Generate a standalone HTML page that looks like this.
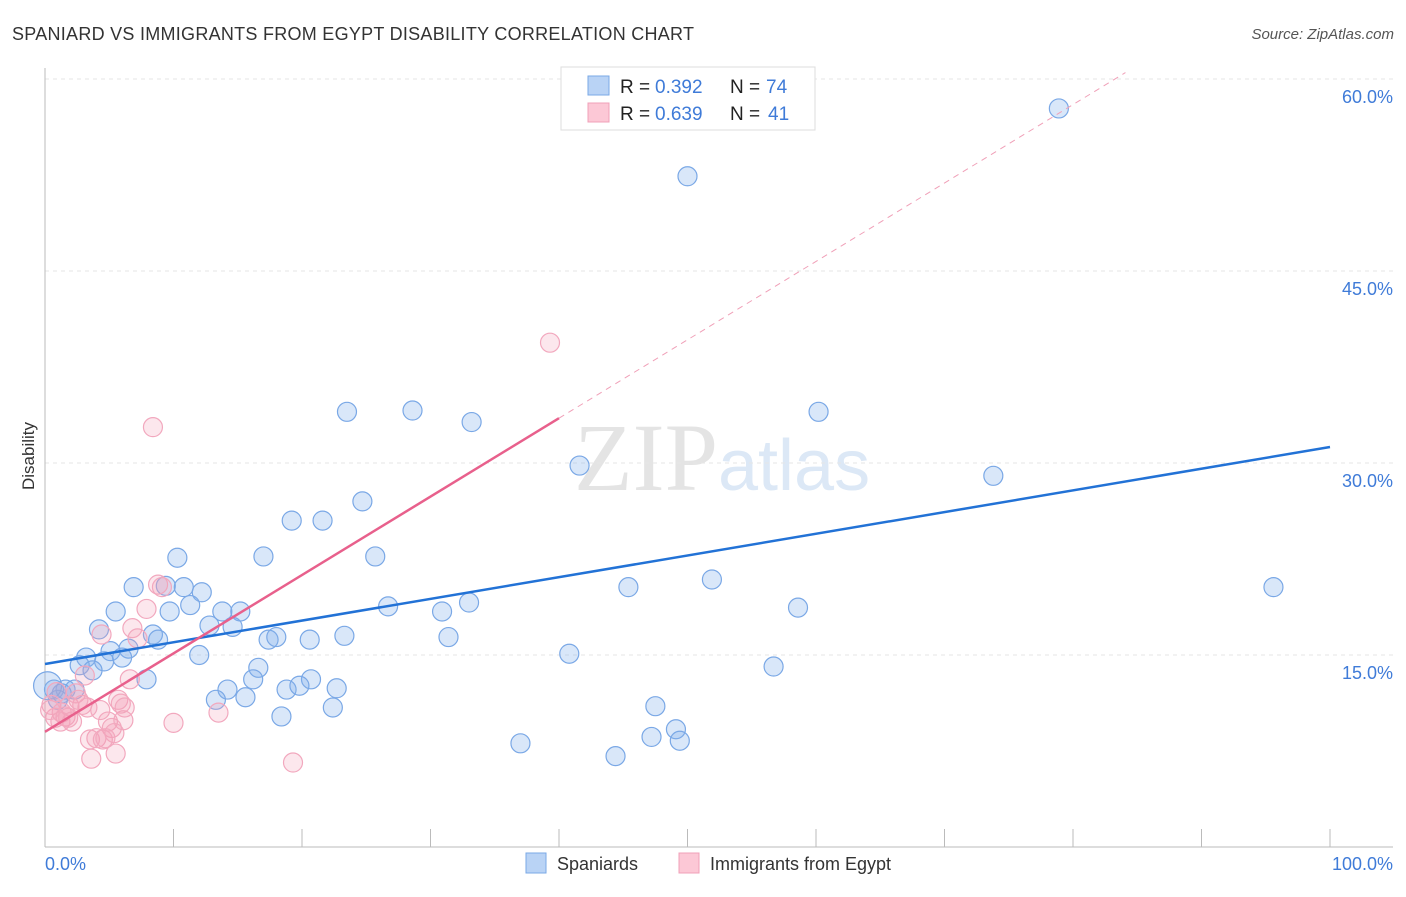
<!DOCTYPE html>
<html><head><meta charset="utf-8"><style>
body{margin:0;background:#fff;font-family:"Liberation Sans",sans-serif}
</style></head><body>
<svg width="1406" height="892" xmlns="http://www.w3.org/2000/svg" style="font-family:'Liberation Sans',sans-serif">
<text x="12" y="40" font-size="18" fill="#333" textLength="682">SPANIARD VS IMMIGRANTS FROM EGYPT DISABILITY CORRELATION CHART</text>
<text x="1394" y="39" font-size="15" fill="#555" font-style="italic" text-anchor="end">Source: ZipAtlas.com</text>
<text x="718" y="490" font-size="96" fill="#e4e4e4" text-anchor="end" font-family="'Liberation Serif',serif">ZIP</text>
<text x="718" y="490" font-size="72" fill="#dce8f6">atlas</text>
<g id="grid"></g><g id="axes"></g><g id="pts"></g><g id="lines"></g>
<text x="34" y="456" font-size="17" fill="#333" text-anchor="middle" transform="rotate(-90 34 456)">Disability</text>
<text x="45" y="870" font-size="18" fill="#3f7bd8">0.0%</text>
<text x="1393" y="870" font-size="18" fill="#3f7bd8" text-anchor="end">100.0%</text>
<g>
<rect x="561" y="67" width="254" height="63" fill="#fff" stroke="#ddd"/>
<rect x="588" y="76" width="21" height="19" fill="#b9d3f5" stroke="#7aa8e6"/>
<rect x="588" y="103" width="21" height="19" fill="#fcc8d6" stroke="#f0a0b8"/>
<text x="620" y="93" font-size="19" fill="#222">R =</text>
<text x="655" y="93" font-size="19" fill="#3f7bd8">0.392</text>
<text x="730" y="93" font-size="19" fill="#222">N =</text>
<text x="766" y="93" font-size="19" fill="#3f7bd8">74</text>
<text x="620" y="120" font-size="19" fill="#222">R =</text>
<text x="655" y="120" font-size="19" fill="#3f7bd8">0.639</text>
<text x="730" y="120" font-size="19" fill="#222">N =</text>
<text x="768" y="120" font-size="19" fill="#3f7bd8">41</text>
</g>
<g>
<rect x="526" y="853" width="20" height="20" fill="#b9d3f5" stroke="#7aa8e6"/>
<text x="557" y="870" font-size="18" fill="#333">Spaniards</text>
<rect x="679" y="853" width="20" height="20" fill="#fcc8d6" stroke="#f0a0b8"/>
<text x="710" y="870" font-size="18" fill="#333">Immigrants from Egypt</text>
</g>
</svg>
<script>
const blueX=[78.9,50.0,23.5,28.6,33.2,60.2,41.6,73.8,24.7,19.2,21.6,17.0,25.7,10.3,6.9,9.4,10.8,12.2,45.4,51.9,95.6,11.3,26.7,33.0,30.9,58.6,5.5,9.7,13.8,15.2,12.8,14.6,4.2,8.4,6.5,8.8,17.4,18.0,20.6,23.3,31.4,3.2,5.1,4.6,6.0,12.0,40.8,2.7,3.7,16.6,56.7,7.9,16.2,20.7,0.7,1.6,2.3,14.2,18.8,19.8,22.7,13.3,15.6,47.5,18.4,22.4,49.1,47.2,49.4,37.0,44.4,1.3,1.0,0.2];
const blueY=[57.7,52.4,34.0,34.1,33.2,34.0,29.8,29.0,27.0,25.5,25.5,22.7,22.7,22.6,20.3,20.4,20.3,19.9,20.3,20.9,20.3,18.9,18.8,19.1,18.4,18.7,18.4,18.4,18.4,18.4,17.3,17.2,17.0,16.6,15.5,16.2,16.2,16.4,16.2,16.5,16.4,14.8,15.3,14.5,14.8,15.0,15.1,14.2,13.8,14.0,14.1,13.1,13.1,13.1,12.3,12.3,12.3,12.3,12.3,12.6,12.4,11.5,11.7,11.0,10.2,10.9,9.2,8.6,8.3,8.1,7.1,12.0,11.5,12.6];
const pinkX=[39.3,8.4,8.8,9.1,7.9,6.8,4.4,7.2,3.1,6.6,0.9,2.4,1.9,5.7,0.5,1.3,2.9,4.3,4.9,5.2,6.1,0.8,1.6,3.3,4.0,3.5,4.5,5.4,5.5,3.6,10.0,13.5,19.3,1.2,2.1,2.6,5.9,0.4,1.8,4.7,6.2];
const pinkY=[39.4,32.8,20.5,20.3,18.6,17.1,16.6,16.3,13.4,13.1,12.1,12.0,11.0,11.5,11.1,10.5,11.1,10.7,9.8,9.3,9.9,10.1,10.2,10.9,8.5,8.4,8.4,8.9,7.3,6.9,9.7,10.5,6.6,9.8,9.8,11.5,11.2,10.7,10.1,8.5,10.9];
const yTicks=[15,30,45,60];
const yTickLabels=["15.0%","30.0%","45.0%","60.0%"];
const blueTrend=[14.3,31.25];
const pinkTrend=[9.0,0.6125];
const NS="http://www.w3.org/2000/svg";
const X=v=>45+v*12.85, Y=v=>847-v*12.8;
function mk(p,t,a){const e=document.createElementNS(NS,t);for(const k in a)e.setAttribute(k,a[k]);document.getElementById(p).appendChild(e);return e;}
yTicks.forEach((t,i)=>{
 const l=mk('grid','line',{x1:45,x2:1393,y1:Y(t),y2:Y(t),stroke:'#e6e6e6','stroke-dasharray':'4,4'});
 
 
 const tx=mk('grid','text',{x:1393,y:Y(t)+24,'font-size':18,fill:'#3f7bd8','text-anchor':'end'});
 tx.textContent=yTickLabels[i];
 
 
});
const ax=mk('axes','line',{x1:45,x2:1393,y1:847,y2:847,stroke:'#bbb'});


const ay=mk('axes','line',{x1:45,x2:45,y1:68,y2:847,stroke:'#bbb'});


for(let i=1;i<=10;i++){const t=mk('axes','line',{x1:X(i*10),x2:X(i*10),y1:829,y2:847,stroke:'#bbb'});
 
 }
blueX.forEach((x,i)=>{const c=mk('pts','circle',{cx:X(x),cy:Y(blueY[i]),r:i==blueX.length-1?14:9.5,fill:'rgba(130,175,235,0.3)',stroke:'#7aa8e6','stroke-width':1.2});
 
 });
pinkX.forEach((x,i)=>{const c=mk('pts','circle',{cx:X(x),cy:Y(pinkY[i]),r:9.5,fill:'rgba(245,160,185,0.25)',stroke:'#f2a8be','stroke-width':1.2});
 
 });
const bl=mk('lines','line',{x1:X(0),y1:Y(blueTrend[0]),x2:X(100),y2:Y(blueTrend[1]),stroke:'#2272d6','stroke-width':2.5});


const pl=mk('lines','line',{x1:X(0),y1:Y(pinkTrend[0]),x2:X(40),y2:Y(pinkTrend[0]+40*pinkTrend[1]),stroke:'#e8608c','stroke-width':2.5});


const xe=(60.5-pinkTrend[0])/pinkTrend[1];
const pd=mk('lines','line',{x1:X(40),y1:Y(pinkTrend[0]+40*pinkTrend[1]),x2:X(xe),y2:Y(60.5),stroke:'#f0a0b8','stroke-width':1,'stroke-dasharray':'6,5'});


</script>
</body></html>
